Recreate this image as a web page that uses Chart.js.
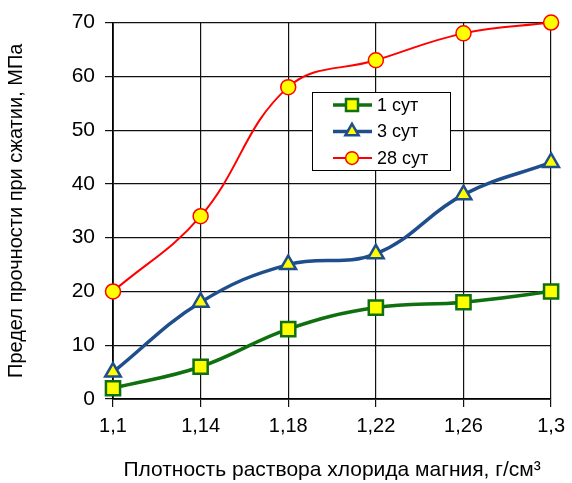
<!DOCTYPE html>
<html>
<head>
<meta charset="utf-8">
<script src="https://cdn.jsdelivr.net/npm/chart.js@4/dist/chart.umd.min.js"></script>
<style>
  html, body { margin: 0; padding: 0; background: #fff; }
  #wrap { width: 572px; height: 483px; position: relative; }
</style>
</head>
<body>
<div id="wrap"><canvas id="chart" width="572" height="483"></canvas></div>
<script>
const categories = ["1,1", "1,14", "1,18", "1,22", "1,26", "1,3"];
const seriesNames = ["1 сут", "3 сут", "28 сут"];
const day1 = [2, 6, 13, 17, 18, 20];
const day3 = [5, 18, 25, 27, 38, 44];
const day28 = [20, 34, 58, 63, 68, 70];
const yTicks = [0, 10, 20, 30, 40, 50, 60, 70];

const FONT = "'Liberation Sans', Arial, sans-serif";

// legend box sits inside the plot, like the original
const boxLegend = {
  id: "boxLegend",
  afterDraw(chart) {
    const ctx = chart.ctx;
    const x = 312, y = 92, w = 138, h = 78;
    ctx.save();
    ctx.fillStyle = "#fff";
    ctx.fillRect(x, y, w, h);
    ctx.strokeStyle = "#000";
    ctx.lineWidth = 1;
    ctx.strokeRect(x + 0.5, y + 0.5, w, h);
    chart.data.datasets.forEach((ds, i) => {
      const cy = y + 13 + i * 26.5;
      ctx.strokeStyle = ds.borderColor;
      ctx.lineWidth = ds.borderWidth;
      ctx.beginPath();
      ctx.moveTo(x + 21, cy);
      ctx.lineTo(x + 60, cy);
      ctx.stroke();
      ctx.fillStyle = ds.pointBackgroundColor;
      ctx.strokeStyle = ds.pointBorderColor;
      ctx.lineWidth = ds.pointBorderWidth;
      Chart.helpers.drawPoint(ctx, {
        pointStyle: ds.pointStyle,
        radius: ds.pointRadius * 0.85,
        borderWidth: ds.pointBorderWidth,
        rotation: 0
      }, x + 40, cy);
      ctx.fillStyle = "#000";
      ctx.font = "18px " + FONT;
      ctx.textBaseline = "middle";
      ctx.textAlign = "left";
      ctx.fillText(ds.label, x + 65, cy + 1);
    });
    ctx.restore();
  }
};

new Chart(document.getElementById("chart"), {
  type: "line",
  data: {
    labels: categories,
    datasets: [
      {
        label: seriesNames[0],
        data: day1,
        borderColor: "#107010",
        borderWidth: 3.5,
        pointStyle: "rect",
        pointRadius: 10,
        pointBorderWidth: 2.5,
        pointBackgroundColor: "#ffff00",
        pointBorderColor: "#107010",
        tension: 0.4,
        clip: false
      },
      {
        label: seriesNames[1],
        data: day3,
        borderColor: "#1f4e8c",
        borderWidth: 3.5,
        pointStyle: "triangle",
        pointRadius: 9,
        pointBorderWidth: 2.5,
        pointBackgroundColor: "#ffff00",
        pointBorderColor: "#1f4e8c",
        tension: 0.4,
        clip: false
      },
      {
        label: seriesNames[2],
        data: day28,
        borderColor: "#ff0000",
        borderWidth: 2,
        pointStyle: "circle",
        pointRadius: 7.5,
        pointBorderWidth: 1.5,
        pointBackgroundColor: "#ffff00",
        pointBorderColor: "#ff0000",
        tension: 0.4,
        clip: false
      }
    ]
  },
  options: {
    responsive: false,
    animation: false,
    layout: { padding: { top: 22, right: 17, left: 0, bottom: 0 } },
    plugins: {
      legend: { display: false },
      tooltip: { enabled: false }
    },
    scales: {
      x: {
        offset: false,
        grid: { color: "#111", lineWidth: 1.2, tickLength: 8 },
        border: { color: "#000", width: 1.8 },
        ticks: { color: "#000", font: { size: 20, family: FONT }, padding: 7, maxRotation: 0, autoSkip: false },
        title: {
          display: true,
          text: "Плотность раствора хлорида магния, г/см³",
          color: "#000",
          font: { size: 21, family: FONT },
          padding: { top: 12, bottom: 0 }
        },
        afterFit(scale) { scale.height = 84; }
      },
      y: {
        min: 0,
        max: 70,
        afterBuildTicks(scale) { scale.ticks = yTicks.map(v => ({ value: v })); },
        grid: { color: "#111", lineWidth: 1.2, tickLength: 8 },
        border: { color: "#000", width: 1.8 },
        ticks: { color: "#000", font: { size: 21, family: FONT }, padding: 10 },
        title: {
          display: true,
          text: "Предел прочности при сжатии, МПа",
          color: "#000",
          font: { size: 20, family: FONT },
          padding: { top: 4, bottom: 0 }
        },
        afterFit(scale) { scale.width = 113; }
      }
    }
  },
  plugins: [boxLegend]
});
</script>
</body>
</html>
